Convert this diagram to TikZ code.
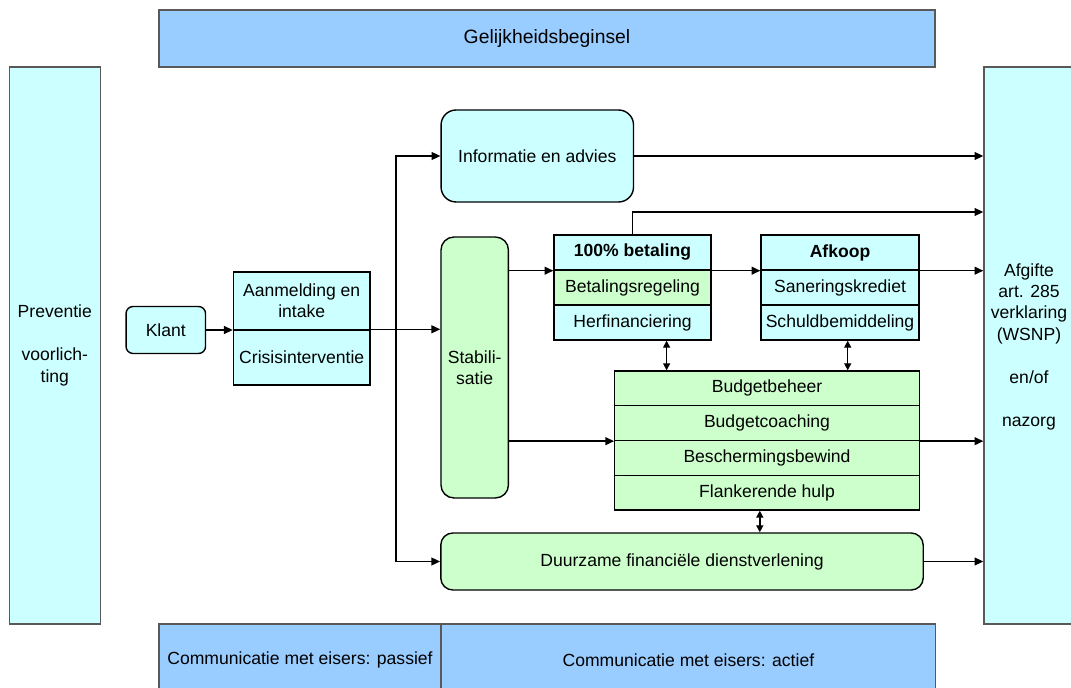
\documentclass[tikz,border=0pt]{standalone}
\usepackage{fontspec}
\setmainfont{Liberation Sans}
\usetikzlibrary{arrows.meta}
\definecolor{barblue}{HTML}{99CCFF}
\definecolor{paleblue}{HTML}{CCFFFF}
\definecolor{palegreen}{HTML}{CCFFCC}
\begin{document}
\begin{tikzpicture}
[   x=0.02cm, y=-0.02cm, thick,
    txt/.style={font=\fontsize{10}{12.2}\selectfont, align=center, inner sep=0pt},
    head/.style={font=\fontsize{10}{12.2}\selectfont\bfseries},
    bar/.style={txt, draw=black!65, fill=barblue, minimum height=1.44cm},
    side/.style={txt, draw=black!65, fill=paleblue, minimum height=11.14cm},
    rbox/.style={txt, draw, fill=#1},
    cell/.style={txt, draw, fill=#1, minimum height=0.7cm},
    arr/.style={-{Triangle[length=5pt,width=4.5pt]}},
    dbl/.style={{Triangle[length=4pt,width=4pt]}-{Triangle[length=4pt,width=4pt]}},
]
\useasboundingbox (0,0) rectangle (1071,688);
\clip (0,0) rectangle (1071,688);

\node[bar, minimum width=15.52cm, minimum height=1.14cm, font=\fontsize{11}{13}\selectfont] (gel) at (547,38.5) {Gelijkheidsbeginsel};
\node[side, minimum width=1.82cm] (prev) at (54.8,345.5) {Preventie\\~\\voorlich-\\ting};
\node[side, minimum width=1.92cm] (afg) at (1032,345.5) {};
\node[txt] (afgtxt) at (1029,346.5) {Afgifte\\art. 285\\verklaring\\(WSNP)\\~\\en/of\\~\\nazorg};

\node[rbox=paleblue, rounded corners=0.14cm, minimum width=1.59cm, minimum height=0.94cm] (klant) at (165.8,330) {Klant};
\node[cell=paleblue, minimum width=2.73cm, minimum height=1.16cm] (aanm) at (301.7,301) {Aanmelding en\\intake};
\node[cell=paleblue, minimum width=2.73cm, minimum height=1.1cm] (crisis) at (301.7,357.5) {Crisisinterventie};

\node[rbox=paleblue, rounded corners=0.3cm, minimum width=3.85cm, minimum height=1.84cm] (info) at (537.3,156) {Informatie en advies};
\node[rbox=palegreen, rounded corners=0.26cm, minimum width=1.35cm, minimum height=5.22cm] (stab) at (474.7,367.5) {Stabili-\\satie};

\node[cell=paleblue, head, minimum width=3.14cm] (bet1) at (632.5,252.5) {100\% betaling};
\node[cell=palegreen, minimum width=3.14cm] (bet2) at (632.5,287.5) {Betalingsregeling};
\node[cell=paleblue, minimum width=3.14cm] (bet3) at (632.5,322.5) {Herfinanciering};

\node[cell=paleblue, head, minimum width=3.16cm] (afk1) at (840,252.5) {Afkoop};
\node[cell=paleblue, minimum width=3.16cm] (afk2) at (840,287.5) {Saneringskrediet};
\node[cell=paleblue, minimum width=3.16cm] (afk3) at (840,322.5) {Schuldbemiddeling};

\node[cell=palegreen, minimum width=6.09cm, minimum height=0.695cm] (bud1) at (767,388.4) {Budgetbeheer};
\node[cell=palegreen, minimum width=6.09cm, minimum height=0.695cm] (bud2) at (767,423.1) {Budgetcoaching};
\node[cell=palegreen, minimum width=6.09cm, minimum height=0.695cm] (bud3) at (767,457.9) {Beschermingsbewind};
\node[cell=palegreen, minimum width=6.09cm, minimum height=0.695cm] (bud4) at (767,492.6) {Flankerende hulp};

\node[rbox=palegreen, rounded corners=0.24cm, minimum width=9.65cm, minimum height=1.14cm] (duur) at (682,561.5) {Duurzame financiële dienstverlening};

\node[bar, minimum width=5.64cm] (pas) at (300,660) {Communicatie met eisers: passief};
\node[bar, minimum width=9.89cm] (act) at (688.4,660) {Communicatie met eisers: actief};

\coordinate (j) at (396,330);
\draw[arr] (klant.east) -- (klant.east -| crisis.west);
\draw[arr] (crisis.north east) -- (crisis.north east -| stab.west);
\draw[arr] (j) |- (info.west);
\draw[arr] (j) |- (duur.west);
\draw[arr] (info.east) -- (info.east -| afg.west);
\draw[arr] (stab.east |- bet1.south west) -- (bet1.south west);
\draw[arr] (bet1.south east) -- (afk1.south west);
\draw[arr] (afk1.south east) -- (afk1.south east -| afg.west);
\draw[arr] (bet1.north) |- (afg.west |- 0,212);
\draw[arr] (stab.east |- bud2.south) -- (bud2.south west);
\draw[arr] (bud2.south east) -- (bud2.south east -| afg.west);
\draw[arr] (duur.east) -- (duur.east -| afg.west);
\draw[dbl] (bet3.south -| 666.6,0) -- (bud1.north -| 666.6,0);
\draw[dbl] (afk3.south -| 847.7,0) -- (bud1.north -| 847.7,0);
\draw[dbl] (bud4.south -| 759.8,0) -- (duur.north -| 759.8,0);

\end{tikzpicture}
\end{document}
